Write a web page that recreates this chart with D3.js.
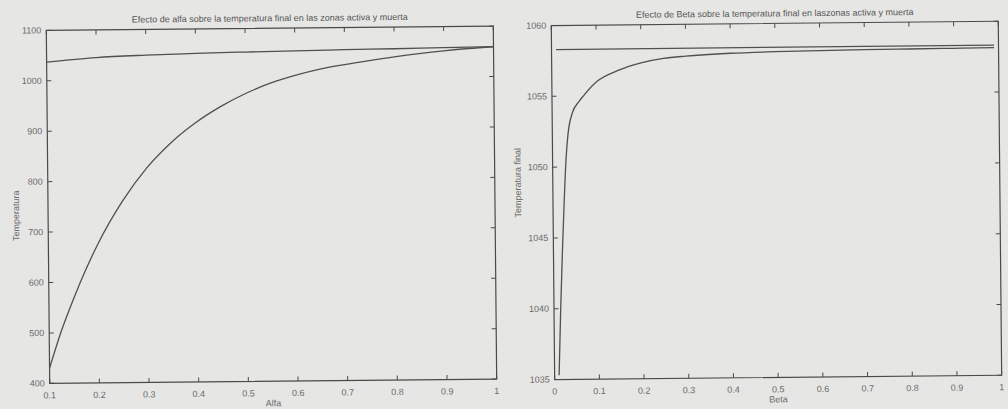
<!DOCTYPE html>
<html lang="es">
<head>
  <meta charset="UTF-8">
  <title>efecto-alfa-beta</title>
  <script src="https://cdn.jsdelivr.net/npm/d3@7"></script>
  <style>
    body { margin: 0; background: #e6e6e4; }
    svg { display: block; font-family: "Liberation Sans", Arial, sans-serif; }
    .axis-line { fill: none; stroke: #4a4a4a; stroke-width: 1.2; }
    .tick-mark { stroke: #4a4a4a; stroke-width: 1; }
    .tick-label { fill: #6a6a6a; font-size: 9px; }
    .title { fill: #555; font-size: 9px; }
    .series { fill: none; stroke: #505050; stroke-width: 1.3; }
  </style>
</head>
<body>
<script>
// alfa panel
let alfaValues = [0.1, 0.125, 0.15, 0.175, 0.2, 0.25, 0.3, 0.35, 0.4, 0.45, 0.5,
  0.55, 0.6, 0.65, 0.7, 0.75, 0.8, 0.85, 0.9, 0.95, 1.0];
let alfaActiva = [430, 505, 568, 625, 676, 760, 826, 876, 915, 946, 971,
  991, 1006, 1018, 1026.5, 1034, 1041, 1047, 1052, 1056, 1059];
let alfaMuertaX = [0.1, 0.2, 0.3, 0.4, 0.5, 0.6, 0.7, 0.8, 0.9, 1.0];
let alfaMuerta = [1037, 1045.2, 1049, 1051.4, 1053.3, 1054.7, 1056, 1057, 1058.2, 1059.4];
let alfaTicksX = [0.1, 0.2, 0.3, 0.4, 0.5, 0.6, 0.7, 0.8, 0.9, 1];
let alfaTicksY = [400, 500, 600, 700, 800, 900, 1000, 1100];

// beta panel
let betaValues = [0.01, 0.015, 0.02, 0.025, 0.03, 0.035, 0.045, 0.06, 0.07, 0.1, 0.15,
  0.2, 0.25, 0.3, 0.4, 0.5, 0.6, 0.7, 0.8, 0.9, 0.99];
let betaActiva = [1035.3, 1040, 1044, 1047.5, 1050.5, 1052.3, 1053.8, 1054.6, 1055.0, 1056.0, 1056.8,
  1057.3, 1057.6, 1057.75, 1057.92, 1058.0, 1058.05, 1058.08, 1058.1, 1058.12, 1058.14];
let betaMuertaX = [0.01, 0.99];
let betaMuerta = [1058.3, 1058.32];
let betaTicksX = [0, 0.1, 0.2, 0.3, 0.4, 0.5, 0.6, 0.7, 0.8, 0.9, 1];
let betaTicksY = [1035, 1040, 1045, 1050, 1055, 1060];

let _width = 1008;
let _height = 409;

let svg = d3.select('body')
  .append('svg')
  .attr('width', _width)
  .attr('height', _height);

// the scanned page is slightly tilted
let page = svg.append('g')
  .attr('transform', 'rotate(-0.55, 504, 204)');

function fmt(v) {
  return String(v);
}

function renderPanel(opts) {
  let x = d3.scaleLinear().domain(opts.xDomain).range([opts.left, opts.right]);
  let y = d3.scaleLinear().domain(opts.yDomain).range([opts.bottom, opts.top]);
  let g = page.append('g');
  let tickLen = 4.5;

  // ticks on all four sides, pointing inwards
  opts.ticksX.forEach(function (t) {
    g.append('line').attr('class', 'tick-mark')
      .attr('x1', x(t)).attr('x2', x(t))
      .attr('y1', opts.bottom).attr('y2', opts.bottom - tickLen);
    g.append('line').attr('class', 'tick-mark')
      .attr('x1', x(t)).attr('x2', x(t))
      .attr('y1', opts.top).attr('y2', opts.top + tickLen);
    g.append('text').attr('class', 'tick-label')
      .attr('x', x(t)).attr('y', opts.bottom + 15)
      .attr('text-anchor', 'middle')
      .text(fmt(t));
  });

  opts.ticksY.forEach(function (t) {
    g.append('line').attr('class', 'tick-mark')
      .attr('x1', opts.left).attr('x2', opts.left + tickLen)
      .attr('y1', y(t)).attr('y2', y(t));
    g.append('line').attr('class', 'tick-mark')
      .attr('x1', opts.right).attr('x2', opts.right - tickLen)
      .attr('y1', y(t)).attr('y2', y(t));
    g.append('text').attr('class', 'tick-label')
      .attr('x', opts.left - 5).attr('y', y(t) + 3)
      .attr('text-anchor', 'end')
      .text(fmt(t));
  });

  g.append('rect').attr('class', 'axis-line')
    .attr('x', opts.left).attr('y', opts.top)
    .attr('width', opts.right - opts.left)
    .attr('height', opts.bottom - opts.top);

  let line = d3.line()
    .x(function (d) { return x(d[0]); })
    .y(function (d) { return y(d[1]); })
    .curve(d3.curveMonotoneX);

  opts.series.forEach(function (s) {
    g.append('path').attr('class', 'series')
      .attr('d', line(d3.zip(s.x, s.y)));
  });

  g.append('text').attr('class', 'title')
    .attr('x', (opts.left + opts.right) / 2).attr('y', opts.top - 7)
    .attr('text-anchor', 'middle')
    .text(opts.title);

  g.append('text').attr('class', 'tick-label')
    .attr('x', (opts.left + opts.right) / 2).attr('y', opts.bottom + 25)
    .attr('text-anchor', 'middle')
    .text(opts.xLabel);

  g.append('text').attr('class', 'tick-label')
    .attr('transform', 'translate(' + opts.yLabelX + ',' + opts.yLabelY + ') rotate(-90)')
    .attr('text-anchor', 'middle')
    .text(opts.yLabel);
}

renderPanel({
  left: 48, right: 495, top: 26, bottom: 379,
  xDomain: [0.1, 1], yDomain: [400, 1100],
  ticksX: alfaTicksX, ticksY: alfaTicksY,
  series: [{x: alfaValues, y: alfaActiva}, {x: alfaMuertaX, y: alfaMuerta}],
  title: 'Efecto de alfa sobre la temperatura final en las zonas activa y muerta',
  xLabel: 'Alfa', yLabel: 'Temperatura', yLabelX: 19, yLabelY: 211
});

renderPanel({
  left: 553, right: 1000, top: 26, bottom: 380,
  xDomain: [0, 1], yDomain: [1035, 1060],
  ticksX: betaTicksX, ticksY: betaTicksY,
  series: [{x: betaValues, y: betaActiva}, {x: betaMuertaX, y: betaMuerta}],
  title: 'Efecto de Beta sobre la temperatura final en laszonas activa y muerta',
  xLabel: 'Beta', yLabel: 'Temperatura final', yLabelX: 521, yLabelY: 183
});
</script>
</body>
</html>
